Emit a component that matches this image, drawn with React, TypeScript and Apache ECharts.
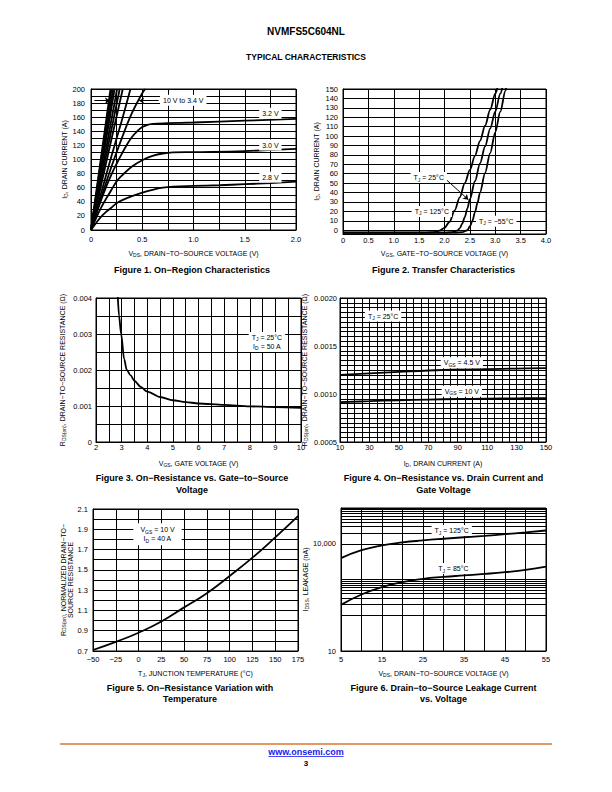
import React, { useEffect, useRef } from 'react';
import * as echarts from 'echarts';

const FONT = '"Liberation Sans", Arial, Helvetica, sans-serif';

// ---------- Figure 1: On-Region Characteristics (VDS V, ID A) ----------
const fig1_10V = [[0, 0], [0.19, 200]];
const fig1_8V = [[0, 0], [0.2, 200]];
const fig1_6V = [[0, 0], [0.215, 200]];
const fig1_5V = [[0, 0], [0.23, 200]];
const fig1_4p5V = [[0, 0], [0.255, 200]];
const fig1_4V = [[0, 0], [0.28, 200]];
const fig1_3p8V = [[0, 0], [0.31, 200]];
const fig1_3p6V = [[0, 0], [0.1, 53], [0.2, 105], [0.3, 155], [0.385, 200]];
const fig1_3p4V = [[0, 0], [0.1, 46], [0.2, 90], [0.3, 130], [0.4, 166], [0.5, 194], [0.53, 200]];
const fig1_3p2V = [[0, 0], [0.05, 22], [0.1, 43], [0.15, 62], [0.2, 79], [0.25, 94], [0.3, 108], [0.35, 121], [0.4, 132], [0.45, 140], [0.5, 146], [0.55, 149], [0.6, 150.5], [0.75, 151.5], [1.0, 152.5], [1.5, 155], [2.0, 157.5]];
const fig1_3p0V = [[0, 0], [0.05, 17], [0.1, 32], [0.15, 45], [0.2, 57], [0.25, 69], [0.3, 77], [0.4, 90], [0.5, 99], [0.6, 105], [0.7, 108.5], [0.8, 110], [1.0, 110.5], [1.5, 112], [2.0, 115]];
const fig1_2p8V = [[0, 0], [0.05, 10], [0.1, 19], [0.15, 26], [0.2, 32], [0.25, 38], [0.3, 42], [0.4, 48], [0.5, 53], [0.6, 57], [0.7, 60], [0.8, 61.5], [1.0, 62.5], [1.25, 63.5], [1.5, 65], [1.75, 66.5], [2.0, 68.5]];
const fig1Labels = ['10 V to 3.4 V', '3.2 V', '3.0 V', '2.8 V'];

// ---------- Figure 2: Transfer Characteristics (VGS V, ID A) ----------
const fig2_125C = [[0, -2.5], [1.6, -2.5], [1.8, -2], [1.9, -0.5], [2.0, 2.5], [2.1, 9], [2.2, 21], [2.3, 35], [2.4, 50], [2.5, 64], [2.6, 79], [2.7, 95], [2.8, 111], [2.9, 128], [3.0, 145], [3.05, 153]];
const fig2_25C = [[0, -2.5], [2.0, -2.5], [2.15, -2], [2.25, -0.5], [2.3, 2], [2.35, 7], [2.4, 14], [2.45, 23], [2.5, 33], [2.6, 52], [2.7, 71], [2.8, 89], [2.9, 108], [3.0, 126], [3.1, 145], [3.15, 154]];
const fig2_m55C = [[0, -2.5], [2.2, -2.5], [2.35, -2], [2.45, 0], [2.5, 4], [2.55, 10], [2.6, 19], [2.65, 29], [2.7, 40], [2.8, 61], [2.9, 82], [3.0, 104], [3.1, 126], [3.2, 148], [3.22, 153]];
const fig2YTicks = [0, 10, 20, 30, 40, 50, 60, 70, 80, 90, 100, 110, 120, 130, 140, 150];
const fig2Labels = ['T{s|J} = 25°C', 'T{s|J} = 125°C', 'T{s|J} = −55°C'];

// ---------- Figure 3: RDS(on) vs VGS ----------
const fig3_rds = [[2.84, 0.0042], [2.9, 0.0035], [2.98, 0.003], [3.1, 0.0023], [3.2, 0.002], [3.35, 0.00185], [3.5, 0.0017], [3.75, 0.00153], [4, 0.0014], [4.5, 0.00125], [5, 0.00116], [5.5, 0.00111], [6, 0.00107], [7, 0.00103], [8, 0.00099], [9, 0.00097], [10, 0.00095]];
const fig3Label = 'T{s|J} = 25°C\nI{s|D} = 50 A';

// ---------- Figure 4: RDS(on) vs ID ----------
const fig4_vgs4p5 = [[10, 0.0012], [30, 0.001215], [50, 0.00123], [70, 0.001245], [90, 0.001255], [110, 0.00126], [130, 0.001265], [150, 0.00127]];
const fig4_vgs10 = [[10, 0.000915], [30, 0.000925], [50, 0.000935], [70, 0.000942], [90, 0.000948], [110, 0.000952], [130, 0.000955], [150, 0.000958]];
const fig4Labels = ['T{s|J} = 25°C', 'V{s|GS} = 4.5 V', 'V{s|GS} = 10 V'];

// ---------- Figure 5: normalized RDS(on) vs TJ ----------
const fig5_norm = [[-50, 0.71], [-25, 0.79], [0, 0.88], [25, 0.99], [50, 1.13], [75, 1.27], [100, 1.44], [125, 1.62], [150, 1.82], [175, 2.03]];
const fig5Label = 'V{s|GS} = 10 V\nI{s|D} = 40 A';

// ---------- Figure 6: IDSS vs VDS (log) ----------
const fig6_125C = [[5, 3950], [10, 6600], [15, 9000], [20, 10900], [25, 12400], [30, 13800], [35, 15200], [40, 16700], [45, 18500], [50, 20800], [55, 23500]];
const fig6_85C = [[5, 195], [10, 380], [15, 610], [20, 840], [25, 1040], [30, 1180], [35, 1300], [40, 1430], [45, 1600], [50, 1850], [55, 2300]];
const fig6MinorGrid = [200, 300, 400, 500, 600, 700, 800, 900, 20000, 30000, 40000, 50000, 60000, 70000, 80000, 90000];
const fig6Labels = ['T{s|J} = 125°C', 'T{s|J} = 85°C'];

const isMult = (v: number, step: number) => Math.abs(v / step - Math.round(v / step)) < 1e-6;

const SUB = { fontSize: 5, lineHeight: 4, verticalAlign: 'bottom', fontFamily: FONT, color: '#000', fill: '#000' };
const nameStyle = { fontSize: 7, lineHeight: 8, fontFamily: FONT, color: '#000', rich: { s: SUB } };
const axisLineStyle = { show: true, onZero: false, lineStyle: { color: '#000', width: 1 } };
const splitLineStyle = { show: true, lineStyle: { color: '#000', width: 1 } };

function valAxis(gi: number, o: any) {
  const { fmt, margin, name, nameGap, customValues, ...rest } = o;
  const ax: any = {
    type: 'value',
    gridIndex: gi,
    axisLine: axisLineStyle,
    axisTick: { show: false },
    splitLine: splitLineStyle,
    axisLabel: { fontSize: 7.5, fontFamily: FONT, color: '#000', margin, formatter: fmt },
    name,
    nameLocation: 'middle',
    nameGap,
    nameTextStyle: nameStyle,
    ...rest,
  };
  if (customValues) {
    ax.axisTick = { show: false, customValues };
    ax.axisLabel.customValues = customValues;
  }
  return ax;
}

function curve(gi: number, data: number[][], smooth: any = 0.4, extra: any = {}) {
  return {
    type: 'line',
    xAxisIndex: gi,
    yAxisIndex: gi,
    data,
    showSymbol: false,
    symbol: 'none',
    smooth,
    lineStyle: { color: '#000', width: 1.8 },
    silent: true,
    z: 3,
    ...extra,
  };
}

const arrowLine = (segs: number[][][]) => ({
  silent: true,
  symbol: ['none', 'arrow'],
  symbolSize: 5,
  label: { show: false },
  lineStyle: { color: '#000', width: 1, type: 'solid' },
  data: segs.map((s) => [{ coord: s[0] }, { coord: s[1] }]),
});

// annotation boxes, anchored in data coordinates of each grid
const NOTES: { gi: number; at: number[]; text: string; pad?: number[] }[] = [
  { gi: 0, at: [0.9, 184], text: fig1Labels[0] },
  { gi: 0, at: [1.75, 165.5], text: fig1Labels[1] },
  { gi: 0, at: [1.75, 120.5], text: fig1Labels[2] },
  { gi: 0, at: [1.75, 75], text: fig1Labels[3] },
  { gi: 1, at: [1.69, 56], text: fig2Labels[0] },
  { gi: 1, at: [1.75, 20], text: fig2Labels[1] },
  { gi: 1, at: [3.02, 9.6], text: fig2Labels[2] },
  { gi: 2, at: [8.67, 0.00278], text: fig3Label },
  { gi: 3, at: [39.3, 0.001812], text: fig4Labels[0] },
  { gi: 3, at: [92.8, 0.001326], text: fig4Labels[1] },
  { gi: 3, at: [92.8, 0.001028], text: fig4Labels[2] },
  { gi: 4, at: [20.8, 1.852], text: fig5Label, pad: [2, 7] },
  { gi: 5, at: [32, 23400], text: fig6Labels[0] },
  { gi: 5, at: [32.4, 2020], text: fig6Labels[1] },
];

const txt = (x: number, y: number, text: string, size: number, weight = 'bold', fill = '#000') => ({
  type: 'text',
  x,
  y,
  silent: true,
  style: {
    text,
    fontSize: size,
    fontWeight: weight,
    fontFamily: FONT,
    fill,
    textAlign: 'center',
    textVerticalAlign: 'middle',
    align: 'center',
    verticalAlign: 'middle',
  },
});

const CAP = 9;
const staticGraphic: any[] = [
  txt(306, 31, 'NVMFS5C604NL', 10),
  txt(306, 57, 'TYPICAL CHARACTERISTICS', 8.5),
  txt(192, 270, 'Figure 1. On−Region Characteristics', CAP),
  txt(443.5, 270, 'Figure 2. Transfer Characteristics', CAP),
  txt(192, 478, 'Figure 3. On−Resistance vs. Gate−to−Source', CAP),
  txt(192, 490, 'Voltage', CAP),
  txt(443.5, 478, 'Figure 4. On−Resistance vs. Drain Current and', CAP),
  txt(443.5, 490, 'Gate Voltage', CAP),
  txt(190, 688, 'Figure 5. On−Resistance Variation with', CAP),
  txt(190, 699, 'Temperature', CAP),
  txt(443.5, 688, 'Figure 6. Drain−to−Source Leakage Current', CAP),
  txt(443.5, 699, 'vs. Voltage', CAP),
  { type: 'line', silent: true, shape: { x1: 60, y1: 744, x2: 552, y2: 744 }, style: { stroke: '#d9782e', lineWidth: 1.5 } },
  txt(306, 752, 'www.onsemi.com', 9, 'bold', '#1a1aee'),
  { type: 'line', silent: true, shape: { x1: 268.5, y1: 756.5, x2: 343.5, y2: 756.5 }, style: { stroke: '#1a1aee', lineWidth: 0.8 } },
  txt(306, 763, '3', 8),
];

const option: any = {
  animation: false,
  backgroundColor: '#fff',
  grid: [
    { left: 91, top: 89, width: 205, height: 141 },
    { left: 343, top: 89, width: 203, height: 145 },
    { left: 96, top: 298, width: 205, height: 144 },
    { left: 340, top: 298, width: 206, height: 144 },
    { left: 93, top: 509, width: 205, height: 142 },
    { left: 341, top: 508, width: 205, height: 143 },
  ].map((g) => ({ ...g, show: true, borderColor: '#000', borderWidth: 1, backgroundColor: 'transparent' })),
  xAxis: [
    valAxis(0, { min: 0, max: 2, interval: 0.25, margin: 5, fmt: (v: number) => (isMult(v, 0.5) ? (v === 0 ? '0' : v.toFixed(1)) : ''), name: 'V{s|DS}, DRAIN−TO−SOURCE VOLTAGE (V)', nameGap: 19 }),
    valAxis(1, { min: 0, max: 4, interval: 0.5, margin: 2, fmt: (v: number) => (v === 0 ? '0' : v.toFixed(1)), name: 'V{s|GS}, GATE−TO−SOURCE VOLTAGE (V)', nameGap: 15 }),
    valAxis(2, { min: 2, max: 10, interval: 0.5, margin: 1, fmt: (v: number) => (isMult(v, 1) ? String(v) : ''), name: 'V{s|GS}, GATE VOLTAGE (V)', nameGap: 17 }),
    valAxis(3, { min: 10, max: 150, interval: 5, margin: 1, fmt: (v: number) => (isMult(v - 10, 20) ? String(v) : ''), name: 'I{s|D}, DRAIN CURRENT (A)', nameGap: 17 }),
    valAxis(4, { min: -50, max: 175, interval: 25, margin: 4, fmt: (v: number) => String(v).replace('-', '−'), name: 'T{s|J}, JUNCTION TEMPERATURE (°C)', nameGap: 18.5 }),
    valAxis(5, { min: 5, max: 55, interval: 5, margin: 4, fmt: (v: number) => (isMult(v - 5, 10) ? String(v) : ''), name: 'V{s|DS}, DRAIN−TO−SOURCE VOLTAGE (V)', nameGap: 18 }),
  ],
  yAxis: [
    valAxis(0, { min: 0, max: 200, interval: 10, margin: 6, fmt: (v: number) => (isMult(v, 20) ? String(v) : ''), name: 'I{s|D}, DRAIN CURRENT (A)', nameGap: 22 }),
    valAxis(1, { min: -4, max: 150, margin: 5, customValues: fig2YTicks, fmt: (v: number) => String(Math.round(v)), name: 'I{s|D}, DRAIN CURRENT (A)', nameGap: 23 }),
    valAxis(2, { min: 0, max: 0.004, interval: 0.0005, margin: 4, fmt: (v: number) => (isMult(v, 0.001) ? (Math.abs(v) < 1e-12 ? '0' : v.toFixed(3)) : ''), name: 'R{s|DS(on)}, DRAIN−TO−SOURCE RESISTANCE (Ω)', nameGap: 29.5 }),
    valAxis(3, { min: 0.0005, max: 0.002, interval: 0.00005, margin: 3, fmt: (v: number) => (isMult(v, 0.0005) ? v.toFixed(4) : ''), name: 'R{s|DS(on)}, DRAIN−TO−SOURCE RESISTANCE (Ω)', nameGap: 32 }),
    valAxis(4, { min: 0.7, max: 2.1, interval: 0.1, margin: 5, fmt: (v: number) => (isMult(v - 0.7, 0.2) ? v.toFixed(1) : ''), name: 'R{s|DS(on)}, NORMALIZED DRAIN−TO−\nSOURCE RESISTANCE', nameGap: 17, nameTextStyle: { ...nameStyle, lineHeight: 7 } }),
    {
      ...valAxis(5, { margin: 5, name: 'I{s|DSS}, LEAKAGE (nA)', nameGap: 29, fmt: (v: number) => { const r = Math.round(v); return r === 10 ? '10' : r === 10000 ? '10,000' : ''; } }),
      type: 'log',
      logBase: 10,
      min: 10,
      max: 100000,
    },
  ],
  series: [
    // Figure 1
    curve(0, fig1_10V, false, {
      markLine: arrowLine([[[0.033, 183.5], [0.185, 183.5]], [[0.66, 183.5], [0.47, 183.5]]]),
    }),
    curve(0, fig1_8V, false),
    curve(0, fig1_6V, false),
    curve(0, fig1_5V, false),
    curve(0, fig1_4p5V, false),
    curve(0, fig1_4V, false),
    curve(0, fig1_3p8V, false),
    curve(0, fig1_3p6V),
    curve(0, fig1_3p4V),
    curve(0, fig1_3p2V),
    curve(0, fig1_3p0V),
    curve(0, fig1_2p8V),
    // Figure 2
    curve(1, fig2_125C, 0.3, { smoothMonotone: 'x', markLine: arrowLine([[[2.05, 53], [2.47, 32.5]]]) }),
    curve(1, fig2_25C, 0.3, { smoothMonotone: 'x' }),
    curve(1, fig2_m55C, 0.3, { smoothMonotone: 'x' }),
    // Figure 3
    curve(2, fig3_rds, 0.3, { smoothMonotone: 'x' }),
    // Figure 4
    curve(3, fig4_vgs4p5),
    curve(3, fig4_vgs10),
    // Figure 5
    curve(4, fig5_norm, 0.5),
    // Figure 6
    curve(5, fig6_125C, 0.5, {
      markLine: {
        silent: true,
        symbol: ['none', 'none'],
        label: { show: false },
        lineStyle: { color: '#000', width: 1, type: 'solid' },
        z: 1,
        data: fig6MinorGrid.map((v) => ({ yAxis: v })),
      },
    }),
    curve(5, fig6_85C, 0.5),
  ],
  graphic: staticGraphic,
};

export default function App() {
  const ref = useRef<HTMLDivElement>(null);
  useEffect(() => {
    const chart = echarts.init(ref.current as HTMLDivElement, null, { renderer: 'svg' });
    chart.setOption(option);
    const noteEls = NOTES.map((n) => {
      const p = chart.convertToPixel({ gridIndex: n.gi } as any, n.at) as number[];
      return {
        type: 'text',
        x: p[0],
        y: p[1],
        z: 100,
        silent: true,
        style: {
          text: n.text,
          fontSize: 7,
          fontFamily: FONT,
          fill: '#000',
          lineHeight: 9,
          align: 'center',
          verticalAlign: 'middle',
          textAlign: 'center',
          textVerticalAlign: 'middle',
          backgroundColor: '#fff',
          padding: n.pad || [1, 3],
          rich: { s: SUB },
        },
      };
    });
    chart.setOption({ graphic: [...staticGraphic, ...noteEls] });
    return () => chart.dispose();
  }, []);
  return (
    <div
      ref={ref}
      style={{ position: 'absolute', left: 0, top: 0, width: 612, height: 792, background: '#fff' }}
    />
  );
}
